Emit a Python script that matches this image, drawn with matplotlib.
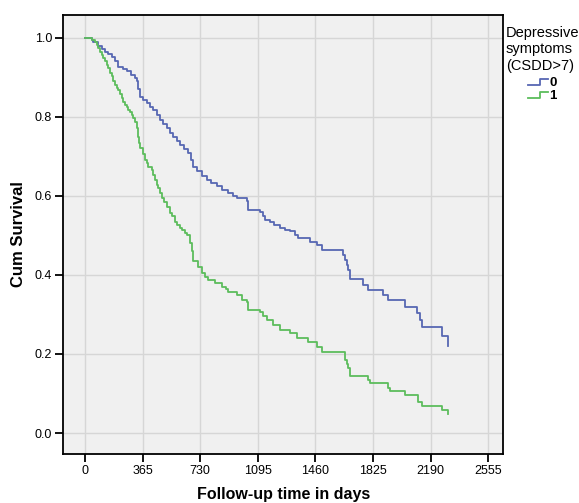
import matplotlib
matplotlib.use("Agg")
import matplotlib.pyplot as plt
from matplotlib.legend_handler import HandlerBase
from matplotlib.lines import Line2D

# Kaplan-Meier steps (time in days, survival after the step)
days_0 = [0, 42, 53, 84, 106, 127, 148, 169, 190, 211, 240, 264, 290, 317, 327,
          338, 349, 370, 391, 412, 433, 454, 475, 497, 518, 539, 560, 581, 602,
          630, 655, 670, 686, 708, 740, 771, 800, 834, 870, 908, 935, 961, 1025,
          1035, 1109, 1125, 1141, 1172, 1200, 1236, 1270, 1299, 1330, 1352, 1426,
          1468, 1500, 1637, 1648, 1660, 1669, 1679, 1763, 1795, 1890, 1922, 2028,
          2102, 2123, 2133, 2260, 2298]
surv_0 = [1.0, 0.995, 0.99, 0.98, 0.972, 0.965, 0.958, 0.952, 0.94, 0.927, 0.92,
          0.915, 0.906, 0.898, 0.89, 0.87, 0.851, 0.843, 0.835, 0.826, 0.818,
          0.805, 0.792, 0.781, 0.771, 0.759, 0.749, 0.739, 0.729, 0.718, 0.708,
          0.69, 0.674, 0.662, 0.651, 0.641, 0.632, 0.624, 0.615, 0.607, 0.6,
          0.594, 0.586, 0.565, 0.56, 0.548, 0.539, 0.535, 0.526, 0.518, 0.513,
          0.51, 0.5, 0.493, 0.484, 0.476, 0.463, 0.45, 0.438, 0.425, 0.413,
          0.389, 0.375, 0.362, 0.349, 0.337, 0.32, 0.303, 0.286, 0.269, 0.245,
          0.221]

days_1 = [0, 42, 63, 74, 84, 95, 106, 116, 127, 138, 148, 158, 169, 180, 190,
          200, 211, 222, 232, 243, 253, 264, 275, 285, 296, 306, 317, 327, 333,
          338, 344, 349, 364, 380, 391, 401, 422, 433, 444, 454, 465, 476, 486,
          502, 518, 539, 549, 570, 581, 602, 613, 634, 644, 665, 676, 686, 718,
          739, 760, 781, 824, 866, 890, 908, 961, 993, 1025, 1035, 1109, 1130,
          1151, 1193, 1236, 1299, 1341, 1415, 1468, 1500, 1648, 1660, 1669, 1679,
          1795, 1805, 1922, 1930, 2028, 2112, 2133, 2260, 2298]
surv_1 = [1.0, 0.995, 0.99, 0.982, 0.974, 0.965, 0.957, 0.948, 0.94, 0.931,
          0.923, 0.912, 0.902, 0.891, 0.881, 0.874, 0.868, 0.857, 0.847, 0.838,
          0.83, 0.824, 0.818, 0.811, 0.805, 0.797, 0.788, 0.771, 0.76, 0.75,
          0.735, 0.721, 0.706, 0.691, 0.682, 0.674, 0.665, 0.653, 0.64, 0.628,
          0.619, 0.606, 0.594, 0.584, 0.573, 0.556, 0.548, 0.535, 0.527, 0.518,
          0.514, 0.505, 0.501, 0.48, 0.46, 0.434, 0.421, 0.404, 0.395, 0.387,
          0.379, 0.37, 0.364, 0.358, 0.349, 0.337, 0.332, 0.311, 0.307, 0.296,
          0.286, 0.273, 0.261, 0.252, 0.24, 0.231, 0.218, 0.206, 0.185, 0.175,
          0.164, 0.143, 0.134, 0.126, 0.113, 0.107, 0.096, 0.079, 0.068, 0.058,
          0.047]

x_ticks = [0, 365, 730, 1095, 1460, 1825, 2190, 2555]
y_ticks = [0.0, 0.2, 0.4, 0.6, 0.8, 1.0]
group_labels = ["0", "1"]

BLUE = "#5767b3"
GREEN = "#5cbd5c"


class StepHandler(HandlerBase):
    # little step-shaped legend key like SPSS draws
    def create_artists(self, legend, orig_handle, xdescent, ydescent,
                       width, height, fontsize, trans):
        x0, x1 = -xdescent, -xdescent + width
        xm = x0 + width * 0.6
        ylo = -ydescent + height * 0.1
        yhi = -ydescent + height * 0.8
        line = Line2D([x0, xm, xm, x1], [ylo, ylo, yhi, yhi],
                      color=orig_handle.get_color(), lw=1.3, transform=trans)
        return [line]


plt.rcParams['font.family'] = ['Liberation Sans', 'DejaVu Sans']

fig = plt.figure(figsize=(5.79, 5.03), dpi=100)
fig.patch.set_facecolor("white")
ax = fig.add_axes([0.109, 0.0975, 0.760, 0.873])
ax.set_facecolor("#f0f0f0")

h0, = ax.step(days_0, surv_0, where="post", color=BLUE, lw=1.3)
h1, = ax.step(days_1, surv_1, where="post", color=GREEN, lw=1.3)

ax.set_xlim(-139, 2649)
ax.set_ylim(-0.053, 1.058)
ax.set_xticks(x_ticks)
ax.set_yticks(y_ticks)
ax.set_yticklabels([f"{v:.1f}" for v in y_ticks])
ax.grid(True, color="#d6d6d6", lw=1.0)
ax.set_axisbelow(True)

for sp in ax.spines.values():
    sp.set_color("black")
    sp.set_linewidth(1.3)
ax.tick_params(direction="out", length=6, width=1.3, colors="black",
               labelsize=9, pad=2)

ax.set_xlabel("Follow-up time in days", fontsize=11.5, fontweight="bold",
              labelpad=7)
ax.set_ylabel("Cum Survival", fontsize=12, fontweight="bold", labelpad=6)

leg = ax.legend([h0, h1], group_labels, handler_map={Line2D: StepHandler()},
                title="Depressive\nsymptoms\n(CSDD>7)", frameon=False,
                loc="upper left", bbox_to_anchor=(0.985, 0.995), fontsize=9.5,
                title_fontsize=10.5, handlelength=1.5, handletextpad=0.1,
                labelspacing=0.05, borderaxespad=0.3)
leg._legend_box.align = "center"
leg._legend_box.sep = 3
for t in leg.get_texts():
    t.set_fontweight("bold")

fig.savefig("out.png", dpi=100)
